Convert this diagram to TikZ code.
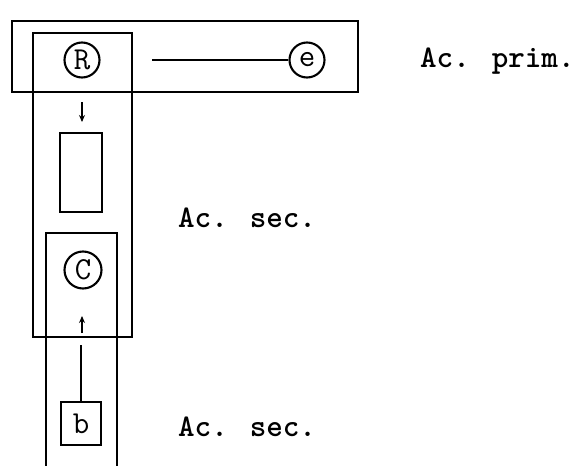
\documentclass[tikz,border=0pt]{standalone}
\usepackage{fontspec}
\usepackage{tikz}
\usetikzlibrary{arrows.meta}

\begin{document}
\begin{tikzpicture}[
  x=1pt, y=-1pt,
  >={Stealth[length=7pt, width=6pt]},
  frame/.style={draw, line width=2.9pt, inner sep=0pt, outer sep=0pt},
  thinframe/.style={draw, line width=2.1pt, inner sep=0pt, outer sep=0pt},
  letter/.style={circle, draw, line width=2.1pt, minimum size=35pt, inner sep=0pt,
                 font=\fontsize{32}{32}\selectfont\ttfamily},
  acname/.style={anchor=base west, inner sep=0pt,
                 font=\fontsize{31.5}{31.5}\selectfont\ttfamily\bfseries}
]
\useasboundingbox (0,0) rectangle (574,466);
\node[frame, minimum width=346pt, minimum height=71pt] (prim) at (185,56.5) {};
\node[frame, minimum width=99pt, minimum height=304pt] (sec) at (82.5,185) {};
\node[thinframe, minimum width=71pt, minimum height=237pt] (low) at (81.5,351.5) {};
\node[thinframe, minimum width=42pt, minimum height=79pt] (mid) at (81,172.5) {};
\node[letter] (R) at (82,60) {R};
\node[letter] (e) at (307,60) {e};
\node[letter, minimum size=37pt] (C) at (83,270) {C};
\node[thinframe, line width=2.6pt, minimum width=40pt, minimum height=43pt,
      font=\fontsize{32}{32}\selectfont\ttfamily] (b) at (81,423.5) {b};
\coordinate (eline) at (152,60);
\coordinate (Rout) at (82,102);
\coordinate (Rin) at (82,122);
\coordinate (Cout) at (82,333);
\coordinate (Cin) at (82,316);
\coordinate (bline) at (82,345);
\draw[line width=2.1pt] (eline) -- (e);
\draw[->, line width=1.5pt] (Rout) -- (Rin);
\draw[->, line width=1.5pt] (Cout) -- (Cin);
\draw[line width=2pt] (b) -- (b |- bline);
\node[acname] (aprim) at (420,67) {Ac. prim.};
\node[acname] (asec) at (178,227) {Ac. sec.};
\node[acname] (asec2) at (178,436) {Ac. sec.};
\end{tikzpicture}
\end{document}
